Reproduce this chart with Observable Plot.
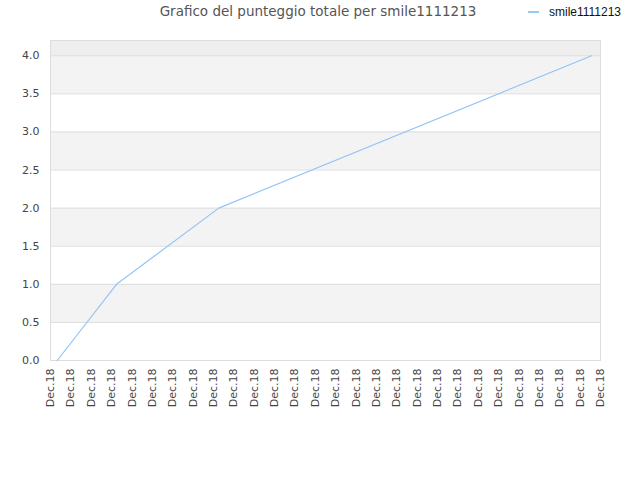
<!DOCTYPE html>
<html>
<head>
<meta charset="utf-8">
<script src="https://cdn.jsdelivr.net/npm/d3@7"></script>
<script src="https://cdn.jsdelivr.net/npm/@observablehq/plot@0.6"></script>
<style>
  body { margin: 0; background: #fff; width: 640px; height: 480px; overflow: hidden; font-family: "DejaVu Sans", sans-serif; }
  #header { position: relative; height: 30px; width: 640px; }
  #title { position: absolute; left: 0; width: 636px; top: 3px; text-align: center; font-size: 13.5px; color: #555; font-family: "DejaVu Sans", sans-serif; }
  #legend { position: absolute; left: 528px; top: 5px; font-size: 12px; color: #111; font-family: "Liberation Sans", Arial, sans-serif; display: flex; align-items: center; }
  #legend .sw { display: inline-block; width: 11px; height: 2px; background: #99c7f5; margin-right: 10px; }
</style>
</head>
<body>
<div id="header">
  <div id="title">Grafico del punteggio totale per smile1111213</div>
  <div id="legend"><span class="sw"></span><span>smile1111213</span></div>
</div>
<div id="chart"></div>
<script>
// x-axis categories (28 ticks, all labelled "Dec.18")
const tickLabels = Array(28).fill("Dec.18");
// series: position along the time axis (in tick units) and total score
const seriesX = [0.33, 3.24, 8.26, 26.56];
const seriesY = [0, 1, 2, 4];
const yTicks = [0, 0.5, 1, 1.5, 2, 2.5, 3, 3.5, 4];
const yMax = 4.2;

const data = seriesX.map((x, i) => ({x, y: seriesY[i]}));
const bandEdges = [...yTicks, yMax];
const bands = bandEdges.slice(0, -1).map((y1, i) => ({y1, y2: bandEdges[i + 1], i}));
const tickIdx = tickLabels.map((_, i) => i);

const chart = Plot.plot({
  width: 640,
  height: 450,
  marginLeft: 50,
  marginRight: 40,
  marginTop: 10,
  marginBottom: 120,
  style: {fontFamily: "DejaVu Sans, sans-serif", fontSize: "11px", color: "#444", background: "#fff"},
  x: {domain: [0, tickLabels.length - 1], axis: null},
  y: {domain: [0, yMax], axis: null},
  marks: [
    Plot.rectY(bands, {
      x1: 0, x2: tickLabels.length - 1, y1: "y1", y2: "y2",
      fill: d => d.i === bands.length - 1 ? "#eeeeee" : (d.i % 2 === 1 ? "#f3f3f3" : "#ffffff")
    }),
    Plot.ruleY(yTicks.slice(1), {stroke: "#dddddd", strokeWidth: 1}),
    Plot.frame({stroke: "#dddddd"}),
    Plot.axisY({ticks: yTicks, tickSize: 0, tickPadding: 11, tickFormat: d3.format(".1f"), fontSize: 11, fill: "#444", label: null}),
    Plot.axisX({ticks: tickIdx, tickSize: 0, tickPadding: 8, tickRotate: -90, tickFormat: i => tickLabels[i], fontSize: 11, fill: "#444", label: null}),
    Plot.line(data, {x: "x", y: "y", stroke: "#94c4f5", strokeWidth: 1.2})
  ]
});
document.getElementById("chart").appendChild(chart);
</script>
</body>
</html>
